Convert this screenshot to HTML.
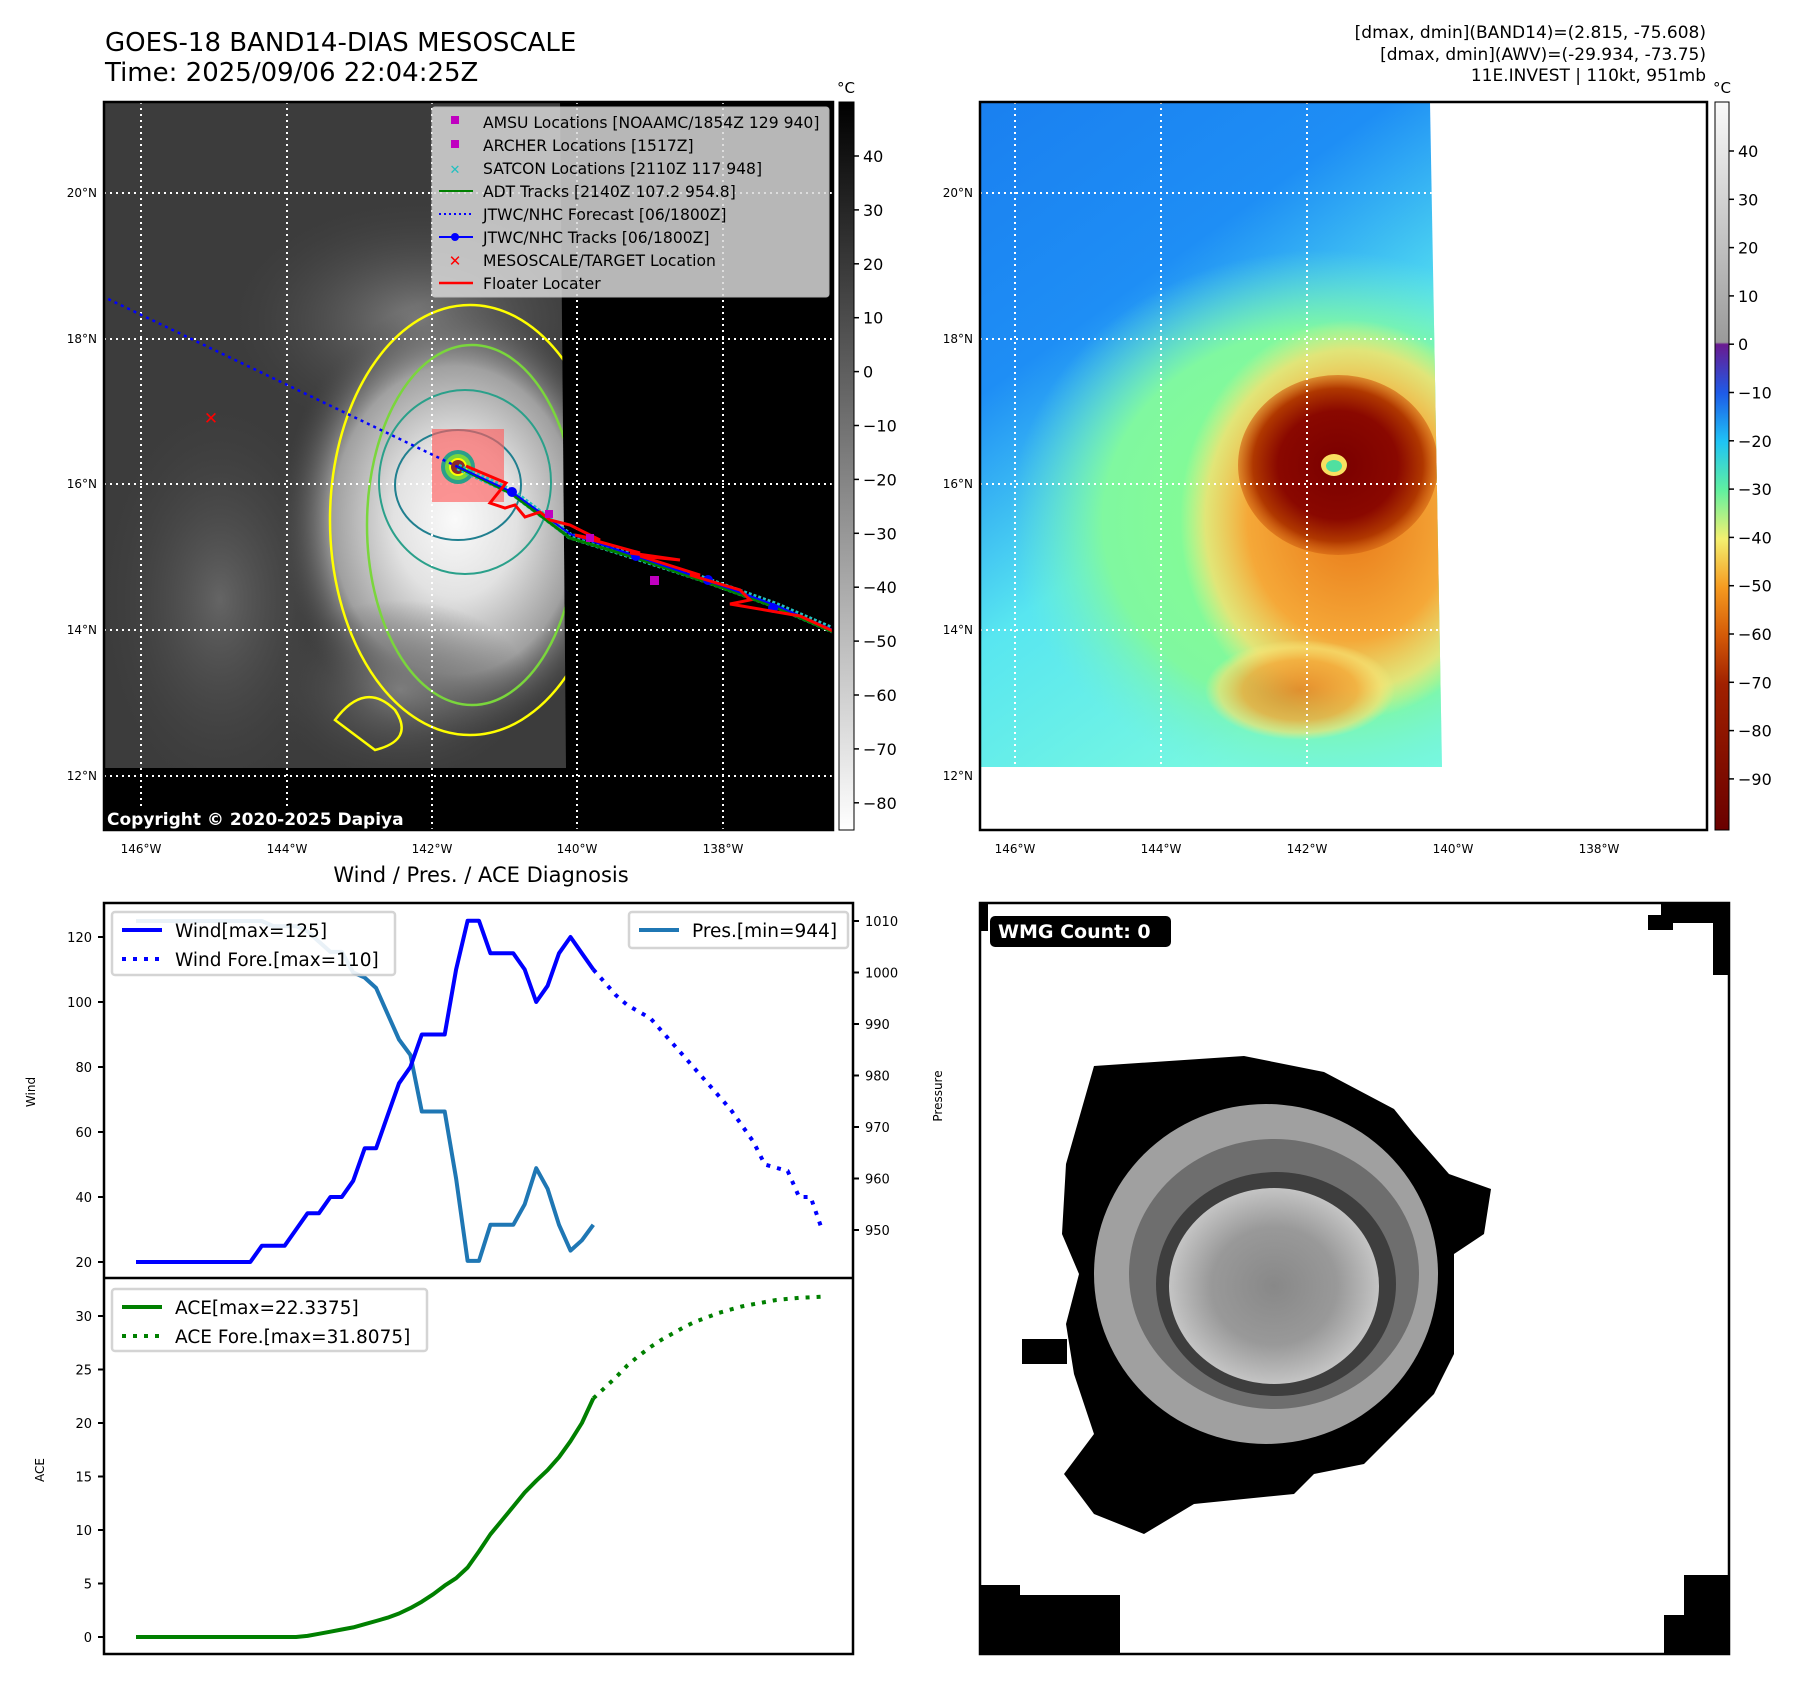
<!DOCTYPE html>
<html><head><meta charset="utf-8">
<style>
html,body{margin:0;padding:0;background:#fff;}
svg{display:block;font-family:"DejaVu Sans","Liberation Sans",sans-serif;}
</style></head>
<body>
<svg id="root" width="1797" height="1690" viewBox="0 0 1797 1690" xmlns="http://www.w3.org/2000/svg">
<defs>
  <linearGradient id="cb1" x1="0" y1="0" x2="0" y2="1"><stop offset="0" stop-color="#000"/><stop offset="1" stop-color="#fff"/></linearGradient>
  <linearGradient id="cb2" x1="0" y1="0" x2="0" y2="1">
    <stop offset="0" stop-color="#fafafa"/><stop offset="0.33" stop-color="#9a9a9a"/>
    <stop offset="0.333" stop-color="#6a1a90"/><stop offset="0.40" stop-color="#1e5be8"/>
    <stop offset="0.467" stop-color="#1fc4f5"/><stop offset="0.533" stop-color="#60f0a0"/>
    <stop offset="0.60" stop-color="#f4f070"/><stop offset="0.667" stop-color="#f59a20"/>
    <stop offset="0.733" stop-color="#d45a08"/><stop offset="0.80" stop-color="#a02000"/>
    <stop offset="1" stop-color="#6a0000"/></linearGradient>
  <radialGradient id="storm1" cx="0.5" cy="0.5" r="0.5"><stop offset="0" stop-color="#fafafa"/><stop offset="0.35" stop-color="#e2e2e2"/><stop offset="0.7" stop-color="#a0a0a0"/><stop offset="1" stop-color="#4a4a4a" stop-opacity="0"/></radialGradient>
  <radialGradient id="band1" cx="0.5" cy="0.5" r="0.5"><stop offset="0" stop-color="#808080"/><stop offset="1" stop-color="#444" stop-opacity="0"/></radialGradient>
  <linearGradient id="bg2" x1="0" y1="0" x2="0.5" y2="1"><stop offset="0" stop-color="#1a80f0"/><stop offset="0.35" stop-color="#1e8ef5"/><stop offset="0.65" stop-color="#58e6f0"/><stop offset="1" stop-color="#78f8e0"/></linearGradient>
  <radialGradient id="green2" cx="0.5" cy="0.5" r="0.5"><stop offset="0" stop-color="#88ff88"/><stop offset="0.7" stop-color="#80f8a0"/><stop offset="1" stop-color="#70f0d0" stop-opacity="0"/></radialGradient>
  <radialGradient id="orange2" cx="0.5" cy="0.5" r="0.5"><stop offset="0" stop-color="#e87818"/><stop offset="0.6" stop-color="#f5a838"/><stop offset="0.85" stop-color="#f8e070" stop-opacity="0.8"/><stop offset="1" stop-color="#f8f080" stop-opacity="0"/></radialGradient>
  <radialGradient id="red2" cx="0.5" cy="0.5" r="0.5"><stop offset="0" stop-color="#7a0000"/><stop offset="0.6" stop-color="#8a0800"/><stop offset="0.85" stop-color="#b03800"/><stop offset="1" stop-color="#d06010" stop-opacity="0.6"/></radialGradient>
  <radialGradient id="wmgc" cx="0.5" cy="0.5" r="0.5"><stop offset="0" stop-color="#888"/><stop offset="0.6" stop-color="#999"/><stop offset="1" stop-color="#c4c4c4"/></radialGradient>
  <clipPath id="clip1"><rect x="104" y="102" width="729" height="728"/></clipPath>
  <clipPath id="clipd1"><polygon points="104,102 560,102 566,768 104,768"/></clipPath>
  <clipPath id="clip2"><polygon points="980,102 1430,102 1442,767 980,767"/></clipPath>
</defs>

<!-- Titles -->
<text x="105" y="51" font-size="26">GOES-18 BAND14-DIAS MESOSCALE</text>
<text x="105" y="81" font-size="26">Time: 2025/09/06 22:04:25Z</text>
<g font-size="17" text-anchor="end">
  <text x="1706" y="38">[dmax, dmin](BAND14)=(2.815, -75.608)</text>
  <text x="1706" y="60">[dmax, dmin](AWV)=(-29.934, -73.75)</text>
  <text x="1706" y="81">11E.INVEST | 110kt, 951mb</text>
</g>

<!-- MAP 1 -->
<g>
  <rect x="104" y="102" width="729" height="728" fill="#000"/>
  <g clip-path="url(#clipd1)">
    <rect x="104" y="102" width="470" height="670" fill="#3c3c3c"/>
    <ellipse cx="420" cy="320" rx="190" ry="120" fill="url(#band1)"/>
    <ellipse cx="220" cy="600" rx="120" ry="200" fill="url(#band1)" opacity="0.6"/>
    <ellipse cx="455" cy="520" rx="175" ry="220" fill="url(#storm1)"/>
    <ellipse cx="400" cy="690" rx="130" ry="90" fill="url(#band1)" opacity="0.9"/>
    <ellipse cx="470" cy="520" rx="140" ry="215" fill="none" stroke="#ffff00" stroke-width="2.5"/>
    <ellipse cx="472" cy="525" rx="105" ry="180" fill="none" stroke="#7ad63c" stroke-width="2.5"/>
    <ellipse cx="465" cy="482" rx="86" ry="92" fill="none" stroke="#2aa08a" stroke-width="2"/>
    <ellipse cx="458" cy="485" rx="63" ry="55" fill="none" stroke="#207f8f" stroke-width="2"/>
    <path d="M335,720 q30,-40 60,-10 q20,30 -20,40 z" fill="none" stroke="#ffff00" stroke-width="2.5"/>
  </g>
  <g stroke="#fff" stroke-width="2" stroke-dasharray="2,4">
    <line x1="141" y1="102" x2="141" y2="830"/><line x1="287" y1="102" x2="287" y2="830"/>
    <line x1="432" y1="102" x2="432" y2="830"/><line x1="577" y1="102" x2="577" y2="830"/>
    <line x1="723" y1="102" x2="723" y2="830"/>
    <line x1="104" y1="193" x2="833" y2="193"/><line x1="104" y1="339" x2="833" y2="339"/>
    <line x1="104" y1="484" x2="833" y2="484"/><line x1="104" y1="630" x2="833" y2="630"/>
    <line x1="104" y1="776" x2="833" y2="776"/>
  </g>
  <g clip-path="url(#clip1)">
    <rect x="432" y="429" width="72" height="73" fill="#ff6060" opacity="0.65"/>
    <circle cx="458" cy="467" r="17" fill="#2aa08a"/><circle cx="458" cy="467" r="13" fill="#7ad63c"/><circle cx="458" cy="467" r="9" fill="#ffff00"/><circle cx="458" cy="467" r="7" fill="#8b2a2a"/>
    <polyline points="458,467 104,297" fill="none" stroke="#0000ff" stroke-width="2.5" stroke-dasharray="3,4"/>
    <polyline points="458,467 512,492 570,536 636,557 700,578 775,605 833,630" fill="none" stroke="#20c0c0" stroke-width="7" stroke-dasharray="3,2"/>
    <polyline points="458,467 512,494 570,538 636,558 700,580 775,607 833,632" fill="none" stroke="#008000" stroke-width="3"/>
    <polyline points="458,467 512,492 570,534 636,556 700,578 775,605 833,630" fill="none" stroke="#0000ff" stroke-width="2"/>
    <g fill="#0000ff"><circle cx="512" cy="492" r="5"/><circle cx="636" cy="556" r="5"/><circle cx="708" cy="580" r="5"/><circle cx="773" cy="608" r="5"/></g>
    <polyline points="466,466 480,472 506,483 490,503 505,508 515,505 525,517 540,512 550,520 570,525 600,540 575,535 640,553 630,553 680,560 640,556 700,575 690,575 740,590 750,600 730,604 800,616 833,631" fill="none" stroke="#ff0000" stroke-width="3"/>
    <g fill="#c000c0"><rect x="545" y="510" width="8" height="8"/><rect x="650" y="576" width="9" height="9"/><rect x="586" y="534" width="8" height="8"/></g>
    <text x="211" y="424" fill="#ff0000" font-size="17" font-weight="bold" text-anchor="middle">✕</text>
  </g>
  <g>
    <rect x="432" y="107" width="397" height="190" rx="3" fill="#d8d8d8" opacity="0.85" stroke="#ccc"/>
    <g font-size="15.6" fill="#000">
      <rect x="451" y="116" width="8" height="8" fill="#c000c0"/><text x="483" y="128">AMSU Locations [NOAAMC/1854Z 129 940]</text>
      <rect x="451" y="140" width="8" height="8" fill="#c000c0"/><text x="483" y="151">ARCHER Locations [1517Z]</text>
      <text x="455" y="174" fill="#20c0c0" font-size="13" text-anchor="middle">✕</text><text x="483" y="174">SATCON Locations [2110Z 117 948]</text>
      <line x1="439" y1="191" x2="473" y2="191" stroke="#008000" stroke-width="2"/><text x="483" y="197">ADT Tracks [2140Z 107.2 954.8]</text>
      <line x1="439" y1="214" x2="473" y2="214" stroke="#0000ff" stroke-width="2" stroke-dasharray="2,3"/><text x="483" y="220">JTWC/NHC Forecast [06/1800Z]</text>
      <line x1="439" y1="237" x2="473" y2="237" stroke="#0000ff" stroke-width="2"/><circle cx="455" cy="237" r="4" fill="#0000ff"/><text x="483" y="243">JTWC/NHC Tracks [06/1800Z]</text>
      <text x="455" y="266" fill="#ff0000" font-size="15" font-weight="bold" text-anchor="middle">✕</text><text x="483" y="266">MESOSCALE/TARGET Location</text>
      <line x1="439" y1="283" x2="473" y2="283" stroke="#ff0000" stroke-width="2.5"/><text x="483" y="289">Floater Locater</text>
    </g>
  </g>
  <rect x="104" y="806" width="312" height="24" fill="#000"/>
  <text x="107" y="825" fill="#fff" font-size="17" font-weight="bold">Copyright © 2020-2025 Dapiya</text>
  <rect x="104" y="102" width="729" height="728" fill="none" stroke="#000" stroke-width="2.5"/>
  <g font-size="12" text-anchor="middle">
    <text x="141" y="853">146°W</text><text x="287" y="853">144°W</text><text x="432" y="853">142°W</text><text x="577" y="853">140°W</text><text x="723" y="853">138°W</text>
  </g>
  <g font-size="12" text-anchor="end">
    <text x="97" y="197">20°N</text><text x="97" y="343">18°N</text><text x="97" y="488">16°N</text><text x="97" y="634">14°N</text><text x="97" y="780">12°N</text>
  </g>
</g>
<!-- Colorbar 1 -->
<g>
  <rect x="839" y="102" width="15" height="728" fill="url(#cb1)" stroke="#000" stroke-width="1"/>
  <text x="846" y="93" font-size="15" text-anchor="middle">°C</text>
  <g id="cb1ticks" font-size="16"></g>
</g>

<!-- MAP 2 -->
<g>
  <g clip-path="url(#clip2)">
    <rect x="980" y="102" width="470" height="670" fill="url(#bg2)"/>
    <ellipse cx="1320" cy="520" rx="310" ry="270" fill="url(#green2)"/>
    <ellipse cx="1350" cy="520" rx="170" ry="200" fill="url(#orange2)"/>
    <ellipse cx="1300" cy="690" rx="95" ry="50" fill="url(#orange2)" opacity="0.8"/>
    <ellipse cx="1338" cy="465" rx="100" ry="90" fill="url(#red2)"/>
    <ellipse cx="1334" cy="465" rx="13" ry="11" fill="#f8e060"/>
    <ellipse cx="1334" cy="466" rx="8" ry="6" fill="#50e0a0"/>
  </g>
  <g stroke="#fff" stroke-width="2" stroke-dasharray="2,4" clip-path="url(#clip2)">
    <line x1="1015" y1="102" x2="1015" y2="830"/><line x1="1161" y1="102" x2="1161" y2="830"/><line x1="1307" y1="102" x2="1307" y2="830"/>
    <line x1="980" y1="193" x2="1707" y2="193"/><line x1="980" y1="339" x2="1707" y2="339"/>
    <line x1="980" y1="484" x2="1707" y2="484"/><line x1="980" y1="630" x2="1707" y2="630"/>
  </g>
  <rect x="980" y="102" width="727" height="728" fill="none" stroke="#000" stroke-width="2.5"/>
  <g font-size="12" text-anchor="middle">
    <text x="1015" y="853">146°W</text><text x="1161" y="853">144°W</text><text x="1307" y="853">142°W</text><text x="1453" y="853">140°W</text><text x="1599" y="853">138°W</text>
  </g>
  <g font-size="12" text-anchor="end">
    <text x="973" y="197">20°N</text><text x="973" y="343">18°N</text><text x="973" y="488">16°N</text><text x="973" y="634">14°N</text><text x="973" y="780">12°N</text>
  </g>
</g>
<g>
  <rect x="1715" y="102" width="14" height="728" fill="url(#cb2)" stroke="#000" stroke-width="1"/>
  <text x="1722" y="93" font-size="15" text-anchor="middle">°C</text>
  <g id="cb2ticks" font-size="16"></g>
</g>

<!-- Diagnosis chart -->
<text x="481" y="882" font-size="21" text-anchor="middle">Wind / Pres. / ACE Diagnosis</text>
<g id="chart"></g>

<!-- WMG panel -->
<g>
  <rect x="980" y="903" width="749" height="751" fill="#fff"/>
  <g transform="translate(-6,-6)">
    <path d="M1100,1072 L1250,1062 L1330,1078 L1400,1115 L1420,1140 L1455,1180 L1497,1195 L1490,1240 L1460,1260 L1460,1360 L1440,1400 L1400,1440 L1370,1470 L1320,1480 L1300,1500 L1200,1510 L1150,1540 L1100,1520 L1070,1480 L1100,1440 L1080,1380 L1072,1330 L1085,1280 L1068,1240 L1072,1170 Z" fill="#000"/>
    <rect x="1028" y="1345" width="45" height="25" fill="#000"/>
    <ellipse cx="1272" cy="1280" rx="172" ry="170" fill="#a0a0a0"/>
    <ellipse cx="1280" cy="1280" rx="145" ry="135" fill="#6e6e6e"/>
    <ellipse cx="1282" cy="1290" rx="120" ry="112" fill="#3e3e3e"/>
    <ellipse cx="1280" cy="1292" rx="105" ry="98" fill="url(#wmgc)"/>
  </g>
  <g fill="#000">
    <rect x="1661" y="903" width="68" height="20"/><rect x="1648" y="915" width="25" height="15"/><rect x="1713" y="915" width="16" height="60"/>
    <rect x="980" y="1595" width="140" height="59"/><rect x="980" y="1585" width="40" height="20"/><rect x="980" y="903" width="8" height="28"/>
    <rect x="1684" y="1575" width="45" height="79"/><rect x="1664" y="1615" width="30" height="39"/>
  </g>
  <rect x="990" y="916" width="181" height="31" rx="5" fill="#000"/>
  <text x="998" y="938" fill="#fff" font-size="19" font-weight="bold">WMG Count: 0</text>
  <rect x="980" y="903" width="749" height="751" fill="none" stroke="#000" stroke-width="2.5"/>
</g>

<script>
// ---- Chart data ----
const windObs = [20,20,20,20,20,20,20,20,20,20,20,25,25,25,30,35,35,40,40,45,55,55,65,75,80,90,90,90,110,125,125,115,115,115,110,100,105,115,120,115,110];
const windFcst = [110,106,102,99,97,95,91,87,83,79,75,71,67,62,57,50,49,48,40,40,30];
const presObs = [1010,1010,1010,1010,1010,1010,1010,1010,1010,1010,1010,1010,1009,1009,1009,1008,1006,1004,1004,1000,999,997,992,987,984,973,973,973,960,944,944,951,951,951,955,962,958,951,946,948,951];
const aceObs = [0,0,0,0,0,0,0,0,0,0,0,0,0,0,0,0.1,0.3,0.5,0.7,0.9,1.2,1.5,1.8,2.2,2.7,3.3,4.0,4.8,5.5,6.5,8.0,9.6,10.9,12.2,13.5,14.6,15.6,16.8,18.3,20.0,22.3];
const aceFcst = [22.3,23.3,24.3,25.4,26.3,27.1,27.8,28.4,29.0,29.5,29.9,30.3,30.6,30.9,31.1,31.3,31.5,31.6,31.7,31.75,31.8];
const windTicks = [20,40,60,80,100,120];
const presTicks = [950,960,970,980,990,1000,1010];
const aceTicks = [0,5,10,15,20,25,30];
const cb1Ticks = [40,30,20,10,0,-10,-20,-30,-40,-50,-60,-70,-80];
const cb2Ticks = [40,30,20,10,0,-10,-20,-30,-40,-50,-60,-70,-80,-90];

const NS='http://www.w3.org/2000/svg';
const L=104,R=853,T=903,M=1278,B=1654;
const nTotal = windObs.length - 1 + windFcst.length - 1;
function xs(i){return 136 + i*(822-136)/nTotal;}
function yW(w){return 1262 - (w-20)*(1262-937)/100;}
function yP(p){return 1230 - (p-950)*(1230-921)/60;}
function yA(a){return 1637 - a*(1637-1316)/30;}
function mk(tag,attrs,parent){const e=document.createElementNS(NS,tag);for(const k in attrs)e.setAttribute(k,attrs[k]);parent.appendChild(e);return e;}
const chart=document.getElementById('chart');
mk('rect',{x:L,y:T,width:R-L,height:B-T,fill:'#fff'},chart);

function line(vals,off,yf,color,dash,name){
  const pts=vals.map((v,i)=>xs(i+off).toFixed(1)+','+yf(v).toFixed(1)).join(' ');
  const a={points:pts,fill:'none',stroke:color,'stroke-width':4,'stroke-linejoin':'round'};
  if(dash)a['stroke-dasharray']=dash;
  const p=mk('polyline',a,chart);
  
  
}
line(presObs,0,yP,'#1f77b4',null,'pressure-line');
line(windObs,0,yW,'#0000ff',null,'wind-line');
line(windFcst,windObs.length-1,yW,'#0000ff','4,7','wind-forecast-line');
line(aceObs,0,yA,'#008000',null,'ace-line');
line(aceFcst,aceObs.length-1,yA,'#008000','4,7','ace-forecast-line');

function ticks(arr,yf,side){
  arr.forEach(v=>{
    const y=yf(v);
    if(side==='l'){mk('line',{x1:L-6,y1:y,x2:L,y2:y,stroke:'#000','stroke-width':2},chart);
      const t=mk('text',{x:L-12,y:y+5,'font-size':13,'text-anchor':'end'},chart);t.textContent=v;
      
      }
    else{mk('line',{x1:R,y1:y,x2:R+6,y2:y,stroke:'#000','stroke-width':2},chart);
      const t=mk('text',{x:R+12,y:y+5,'font-size':13},chart);t.textContent=v;
      
      }
  });
}
ticks(windTicks,yW,'l');ticks(presTicks,yP,'r');ticks(aceTicks,yA,'l');

function vtext(x,y,s,name){const t=mk('text',{x:x,y:y,'font-size':12,'text-anchor':'middle',transform:`rotate(-90 ${x} ${y})`},chart);t.textContent=s;
  
  }
vtext(35,1092,'Wind','wind-axis-title');vtext(942,1096,'Pressure','pressure-axis-title');vtext(44,1470,'ACE','ace-axis-title');

function legend(x,y,w,h,items,name){
  const g=mk('g',{},chart);
  
  
  mk('rect',{x:x,y:y,width:w,height:h,rx:3,fill:'#fff',stroke:'#d0d0d0','stroke-width':2.5,opacity:0.9},g);
  items.forEach((it,k)=>{const yy=y+18+k*29;
    const a={x1:x+10,y1:yy,x2:x+50,y2:yy,stroke:it[1],'stroke-width':4};if(it[2])a['stroke-dasharray']='4,7';
    mk('line',a,g);const t=mk('text',{x:x+63,y:yy+7,'font-size':18.5},g);t.textContent=it[0];});
}
legend(112,912,283,63,[['Wind[max=125]','#0000ff'],['Wind Fore.[max=110]','#0000ff',1]],'wind-legend');
legend(629,912,219,36,[['Pres.[min=944]','#1f77b4']],'pressure-legend');
legend(112,1289,315,62,[['ACE[max=22.3375]','#008000'],['ACE Fore.[max=31.8075]','#008000',1]],'ace-legend');

mk('rect',{x:L,y:T,width:R-L,height:B-T,fill:'none',stroke:'#000','stroke-width':2.5},chart);
mk('line',{x1:L,y1:M,x2:R,y2:M,stroke:'#000','stroke-width':2.5},chart);

// colorbar ticks
function cbt(id,arr,yf,x){const g=document.getElementById(id);
  arr.forEach(v=>{const y=yf(v);mk('line',{x1:x,y1:y,x2:x+5,y2:y,stroke:'#000','stroke-width':1.5},g);
    const t=mk('text',{x:x+9,y:y+6},g);t.textContent=(v<0?'\u2212'+(-v):v);
    
    });}
cbt('cb1ticks',cb1Ticks,v=>156+(40-v)*5.39,854);
cbt('cb2ticks',cb2Ticks,v=>151+(40-v)*4.83,1729);
</script>
</svg>
</body></html>
